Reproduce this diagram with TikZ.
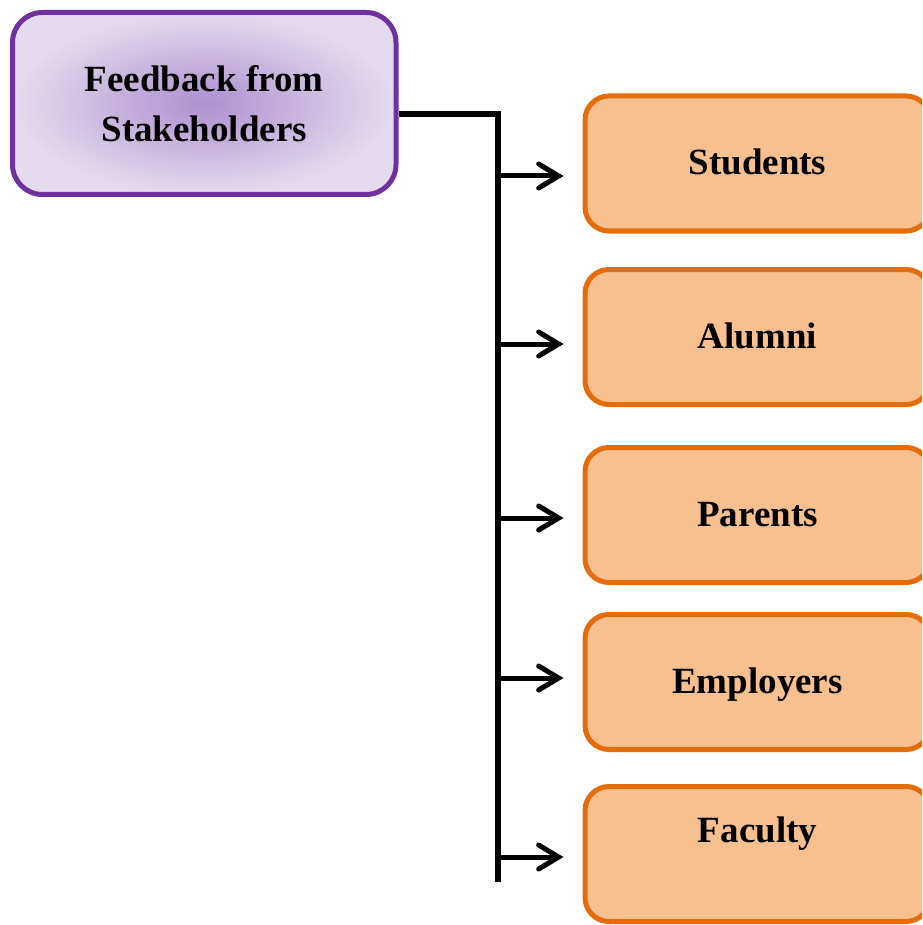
\documentclass[tikz,border=0pt]{standalone}
\usepackage{fontspec}
\setmainfont{Liberation Serif}
\usetikzlibrary{arrows.meta}
\definecolor{purpb}{HTML}{7030A0}
\definecolor{purpin}{HTML}{AE8FD0}
\definecolor{purpout}{HTML}{E4DCEE}
\definecolor{orgb}{HTML}{E46C0A}
\definecolor{orgf}{HTML}{F8BF8F}
\tikzset{
  topbox/.style={draw=purpb, line width=5pt, rounded corners=30pt,
    shading=radial, inner color=purpin, outer color=purpout,
    minimum width=383.5pt, minimum height=182pt, align=center,
    font=\fontsize{37}{50}\selectfont\bfseries},
  orbox/.style={draw=orgb, fill=orgf, line width=5pt, rounded corners=24pt,
    minimum width=345pt, minimum height=135pt, text height=26pt, text depth=3pt,
    font=\fontsize{37}{50}\selectfont\bfseries},
  conn/.style={line width=5.5pt, black},
  arr/.style={line width=5pt, black, -{Straight Barb[length=20pt,width=24pt,line cap=round]}, shorten >=19pt},
}
\begin{document}
\begin{tikzpicture}
\useasboundingbox (0,0) rectangle (922pt,-925pt);
\clip (0,0) rectangle (922pt,-925pt);
\node[topbox] (fb) at (204.25pt,-103.5pt) {Feedback from\\Stakeholders};
\node[orbox] (s1) at (757.5pt,-163.5pt) {Students};
\node[orbox] (s2) at (757.5pt,-337pt) {Alumni};
\node[orbox] (s3) at (757.5pt,-515pt) {Parents};
\node[orbox] (s4) at (757.5pt,-682pt) {Employers};
\node[orbox, text height=26pt, text depth=50pt] (s5) at (757.5pt,-854pt) {Faculty};
\coordinate (top) at (498pt,-114pt);
\coordinate (bot) at (498pt,-882pt);
\coordinate (t1) at (498pt,-176pt);
\coordinate (t2) at (498pt,-344pt);
\coordinate (t3) at (498pt,-518pt);
\coordinate (t4) at (498pt,-678pt);
\coordinate (t5) at (498pt,-857pt);
\draw[conn] (fb.east |- top) -- (top) -- (bot);
\foreach \i in {1,...,5}{
  \draw[arr] (t\i) -- (t\i -| s\i.west);
}
\end{tikzpicture}
\end{document}
